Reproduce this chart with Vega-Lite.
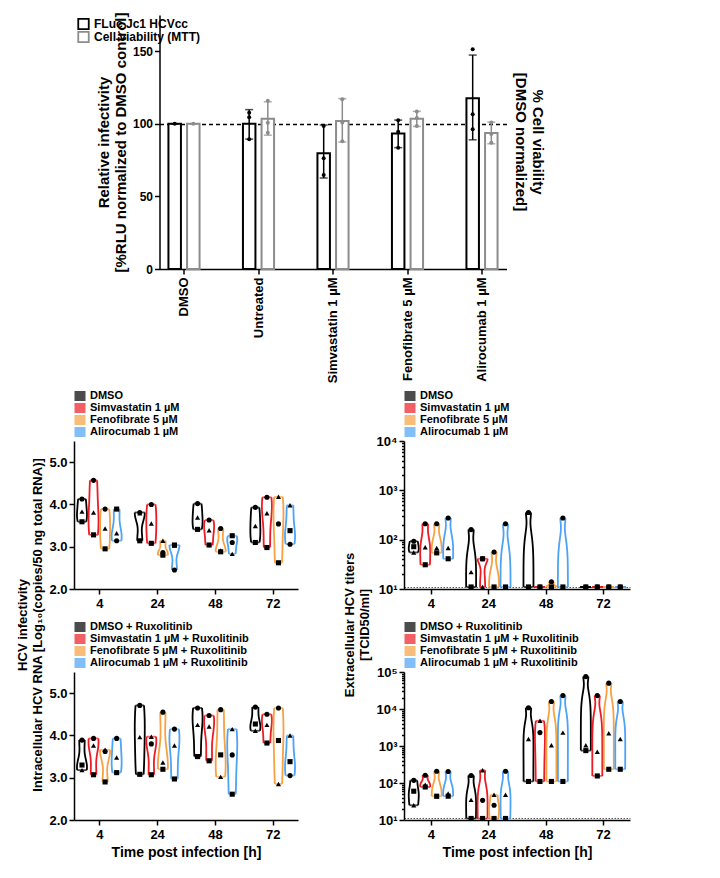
{
"$schema": "https://vega.github.io/schema/vega-lite/v6.json",
"background": "white",
"padding": {"left": 16, "top": 12, "right": 5, "bottom": 5},
"config": {
  "font": "Liberation Sans",
  "view": {"stroke": null},
  "axis": {"domainColor": "black", "domainWidth": 1.5, "tickColor": "black", "tickWidth": 1.5, "tickSize": 5, "labelFont": "Liberation Sans", "labelFontWeight": "bold", "labelColor": "black", "titleFont": "Liberation Sans", "titleFontWeight": "bold", "titleColor": "black", "grid": false, "labelPadding": 2},
  "legend": {"labelFont": "Liberation Sans", "labelFontWeight": "bold", "labelFontSize": 11, "labelColor": "black", "symbolType": "square", "symbolSize": 85, "symbolStrokeWidth": 1.8, "rowPadding": 1, "padding": 0, "labelOffset": 4, "clipHeight": 10},
  "title": {"font": "Liberation Sans", "fontWeight": "bold", "color": "black"}
},
"datasets": {
  "aBars": [
    {"slot": "DMSO|F", "series": "FLuc Jc1 HCVcc", "mean": 100, "lo": 100, "hi": 100},
    {"slot": "DMSO|M", "series": "Cell viability (MTT)", "mean": 100, "lo": 100, "hi": 100},
    {"slot": "Untreated|F", "series": "FLuc Jc1 HCVcc", "mean": 100, "lo": 89.5, "hi": 109.8},
    {"slot": "Untreated|M", "series": "Cell viability (MTT)", "mean": 103.5, "lo": 92.2, "hi": 115.2},
    {"slot": "Simvastatin 1 µM|F", "series": "FLuc Jc1 HCVcc", "mean": 79.8, "lo": 62.7, "hi": 99.2},
    {"slot": "Simvastatin 1 µM|M", "series": "Cell viability (MTT)", "mean": 102, "lo": 87.5, "hi": 117.4},
    {"slot": "Fenofibrate 5 µM|F", "series": "FLuc Jc1 HCVcc", "mean": 93.3, "lo": 83.6, "hi": 102.6},
    {"slot": "Fenofibrate 5 µM|M", "series": "Cell viability (MTT)", "mean": 103.6, "lo": 98.2, "hi": 108.6},
    {"slot": "Alirocumab 1 µM|F", "series": "FLuc Jc1 HCVcc", "mean": 117.6, "lo": 89, "hi": 147.4},
    {"slot": "Alirocumab 1 µM|M", "series": "Cell viability (MTT)", "mean": 93.7, "lo": 86.3, "hi": 101.2}
  ],
  "aPts": [
    {"slot": "DMSO|F", "series": "FLuc Jc1 HCVcc", "value": 100},
    {"slot": "DMSO|M", "series": "Cell viability (MTT)", "value": 100},
    {"slot": "Untreated|F", "series": "FLuc Jc1 HCVcc", "value": 107.7},
    {"slot": "Untreated|F", "series": "FLuc Jc1 HCVcc", "value": 104.5},
    {"slot": "Untreated|F", "series": "FLuc Jc1 HCVcc", "value": 89.4},
    {"slot": "Untreated|M", "series": "Cell viability (MTT)", "value": 116},
    {"slot": "Untreated|M", "series": "Cell viability (MTT)", "value": 100.8},
    {"slot": "Untreated|M", "series": "Cell viability (MTT)", "value": 93.9},
    {"slot": "Simvastatin 1 µM|F", "series": "FLuc Jc1 HCVcc", "value": 98.6},
    {"slot": "Simvastatin 1 µM|F", "series": "FLuc Jc1 HCVcc", "value": 76.3},
    {"slot": "Simvastatin 1 µM|F", "series": "FLuc Jc1 HCVcc", "value": 64.8},
    {"slot": "Simvastatin 1 µM|M", "series": "Cell viability (MTT)", "value": 117},
    {"slot": "Simvastatin 1 µM|M", "series": "Cell viability (MTT)", "value": 101},
    {"slot": "Simvastatin 1 µM|M", "series": "Cell viability (MTT)", "value": 88},
    {"slot": "Fenofibrate 5 µM|F", "series": "FLuc Jc1 HCVcc", "value": 102.5},
    {"slot": "Fenofibrate 5 µM|F", "series": "FLuc Jc1 HCVcc", "value": 94.6},
    {"slot": "Fenofibrate 5 µM|F", "series": "FLuc Jc1 HCVcc", "value": 83.6},
    {"slot": "Fenofibrate 5 µM|M", "series": "Cell viability (MTT)", "value": 108.5},
    {"slot": "Fenofibrate 5 µM|M", "series": "Cell viability (MTT)", "value": 104},
    {"slot": "Fenofibrate 5 µM|M", "series": "Cell viability (MTT)", "value": 98.5},
    {"slot": "Alirocumab 1 µM|F", "series": "FLuc Jc1 HCVcc", "value": 151.4},
    {"slot": "Alirocumab 1 µM|F", "series": "FLuc Jc1 HCVcc", "value": 106.6},
    {"slot": "Alirocumab 1 µM|F", "series": "FLuc Jc1 HCVcc", "value": 96.3},
    {"slot": "Alirocumab 1 µM|M", "series": "Cell viability (MTT)", "value": 101},
    {"slot": "Alirocumab 1 µM|M", "series": "Cell viability (MTT)", "value": 87},
    {"slot": "Alirocumab 1 µM|M", "series": "Cell viability (MTT)", "value": 93}
  ],
  "bTop": [
    {"time": 4, "trt": "DMSO", "cond": "4|D", "rep": "1", "value": 4.13},
    {"time": 4, "trt": "DMSO", "cond": "4|D", "rep": "2", "value": 3.83},
    {"time": 4, "trt": "DMSO", "cond": "4|D", "rep": "3", "value": 3.59},
    {"time": 4, "trt": "Simvastatin 1 µM", "cond": "4|S", "rep": "1", "value": 4.57},
    {"time": 4, "trt": "Simvastatin 1 µM", "cond": "4|S", "rep": "2", "value": 3.81},
    {"time": 4, "trt": "Simvastatin 1 µM", "cond": "4|S", "rep": "3", "value": 3.28},
    {"time": 4, "trt": "Fenofibrate 5 µM", "cond": "4|F", "rep": "1", "value": 3.89},
    {"time": 4, "trt": "Fenofibrate 5 µM", "cond": "4|F", "rep": "2", "value": 3.43},
    {"time": 4, "trt": "Fenofibrate 5 µM", "cond": "4|F", "rep": "3", "value": 2.95},
    {"time": 4, "trt": "Alirocumab 1 µM", "cond": "4|A", "rep": "1", "value": 3.14},
    {"time": 4, "trt": "Alirocumab 1 µM", "cond": "4|A", "rep": "2", "value": 3.32},
    {"time": 4, "trt": "Alirocumab 1 µM", "cond": "4|A", "rep": "3", "value": 3.89},
    {"time": 24, "trt": "DMSO", "cond": "24|D", "rep": "1", "value": 3.81},
    {"time": 24, "trt": "DMSO", "cond": "24|D", "rep": "2", "value": 3.79},
    {"time": 24, "trt": "DMSO", "cond": "24|D", "rep": "3", "value": 3.14},
    {"time": 24, "trt": "Simvastatin 1 µM", "cond": "24|S", "rep": "1", "value": 4.0},
    {"time": 24, "trt": "Simvastatin 1 µM", "cond": "24|S", "rep": "2", "value": 3.55},
    {"time": 24, "trt": "Simvastatin 1 µM", "cond": "24|S", "rep": "3", "value": 3.08},
    {"time": 24, "trt": "Fenofibrate 5 µM", "cond": "24|F", "rep": "1", "value": 2.86},
    {"time": 24, "trt": "Fenofibrate 5 µM", "cond": "24|F", "rep": "2", "value": 3.14},
    {"time": 24, "trt": "Fenofibrate 5 µM", "cond": "24|F", "rep": "3", "value": 2.8},
    {"time": 24, "trt": "Alirocumab 1 µM", "cond": "24|A", "rep": "1", "value": 2.45},
    {"time": 24, "trt": "Alirocumab 1 µM", "cond": "24|A", "rep": "2", "value": 3.03},
    {"time": 24, "trt": "Alirocumab 1 µM", "cond": "24|A", "rep": "3", "value": 3.04},
    {"time": 48, "trt": "DMSO", "cond": "48|D", "rep": "1", "value": 4.02},
    {"time": 48, "trt": "DMSO", "cond": "48|D", "rep": "2", "value": 3.69},
    {"time": 48, "trt": "DMSO", "cond": "48|D", "rep": "3", "value": 3.41},
    {"time": 48, "trt": "Simvastatin 1 µM", "cond": "48|S", "rep": "1", "value": 3.63},
    {"time": 48, "trt": "Simvastatin 1 µM", "cond": "48|S", "rep": "2", "value": 3.39},
    {"time": 48, "trt": "Simvastatin 1 µM", "cond": "48|S", "rep": "3", "value": 3.04},
    {"time": 48, "trt": "Fenofibrate 5 µM", "cond": "48|F", "rep": "1", "value": 3.43},
    {"time": 48, "trt": "Fenofibrate 5 µM", "cond": "48|F", "rep": "2", "value": 2.91},
    {"time": 48, "trt": "Fenofibrate 5 µM", "cond": "48|F", "rep": "3", "value": 2.88},
    {"time": 48, "trt": "Alirocumab 1 µM", "cond": "48|A", "rep": "1", "value": 3.1},
    {"time": 48, "trt": "Alirocumab 1 µM", "cond": "48|A", "rep": "2", "value": 2.83},
    {"time": 48, "trt": "Alirocumab 1 µM", "cond": "48|A", "rep": "3", "value": 3.26},
    {"time": 72, "trt": "DMSO", "cond": "72|D", "rep": "1", "value": 3.93},
    {"time": 72, "trt": "DMSO", "cond": "72|D", "rep": "2", "value": 3.49},
    {"time": 72, "trt": "DMSO", "cond": "72|D", "rep": "3", "value": 3.1},
    {"time": 72, "trt": "Simvastatin 1 µM", "cond": "72|S", "rep": "1", "value": 4.17},
    {"time": 72, "trt": "Simvastatin 1 µM", "cond": "72|S", "rep": "2", "value": 3.79},
    {"time": 72, "trt": "Simvastatin 1 µM", "cond": "72|S", "rep": "3", "value": 2.98},
    {"time": 72, "trt": "Fenofibrate 5 µM", "cond": "72|F", "rep": "1", "value": 3.54},
    {"time": 72, "trt": "Fenofibrate 5 µM", "cond": "72|F", "rep": "2", "value": 4.18},
    {"time": 72, "trt": "Fenofibrate 5 µM", "cond": "72|F", "rep": "3", "value": 2.62},
    {"time": 72, "trt": "Alirocumab 1 µM", "cond": "72|A", "rep": "1", "value": 3.06},
    {"time": 72, "trt": "Alirocumab 1 µM", "cond": "72|A", "rep": "2", "value": 3.98},
    {"time": 72, "trt": "Alirocumab 1 µM", "cond": "72|A", "rep": "3", "value": 3.38}
  ],
  "bBot": [
    {"time": 4, "trt": "DMSO + Ruxolitinib", "cond": "4|D", "rep": "1", "value": 3.89},
    {"time": 4, "trt": "DMSO + Ruxolitinib", "cond": "4|D", "rep": "2", "value": 3.18},
    {"time": 4, "trt": "DMSO + Ruxolitinib", "cond": "4|D", "rep": "3", "value": 3.3},
    {"time": 4, "trt": "Simvastatin 1 µM + Ruxolitinib", "cond": "4|S", "rep": "1", "value": 3.93},
    {"time": 4, "trt": "Simvastatin 1 µM + Ruxolitinib", "cond": "4|S", "rep": "2", "value": 3.76},
    {"time": 4, "trt": "Simvastatin 1 µM + Ruxolitinib", "cond": "4|S", "rep": "3", "value": 3.07},
    {"time": 4, "trt": "Fenofibrate 5 µM + Ruxolitinib", "cond": "4|F", "rep": "1", "value": 3.62},
    {"time": 4, "trt": "Fenofibrate 5 µM + Ruxolitinib", "cond": "4|F", "rep": "2", "value": 3.66},
    {"time": 4, "trt": "Fenofibrate 5 µM + Ruxolitinib", "cond": "4|F", "rep": "3", "value": 2.9},
    {"time": 4, "trt": "Alirocumab 1 µM + Ruxolitinib", "cond": "4|A", "rep": "1", "value": 3.93},
    {"time": 4, "trt": "Alirocumab 1 µM + Ruxolitinib", "cond": "4|A", "rep": "2", "value": 3.48},
    {"time": 4, "trt": "Alirocumab 1 µM + Ruxolitinib", "cond": "4|A", "rep": "3", "value": 3.12},
    {"time": 24, "trt": "DMSO + Ruxolitinib", "cond": "24|D", "rep": "1", "value": 4.71},
    {"time": 24, "trt": "DMSO + Ruxolitinib", "cond": "24|D", "rep": "2", "value": 3.96},
    {"time": 24, "trt": "DMSO + Ruxolitinib", "cond": "24|D", "rep": "3", "value": 3.08},
    {"time": 24, "trt": "Simvastatin 1 µM + Ruxolitinib", "cond": "24|S", "rep": "1", "value": 3.8},
    {"time": 24, "trt": "Simvastatin 1 µM + Ruxolitinib", "cond": "24|S", "rep": "2", "value": 3.97},
    {"time": 24, "trt": "Simvastatin 1 µM + Ruxolitinib", "cond": "24|S", "rep": "3", "value": 3.07},
    {"time": 24, "trt": "Fenofibrate 5 µM + Ruxolitinib", "cond": "24|F", "rep": "1", "value": 4.55},
    {"time": 24, "trt": "Fenofibrate 5 µM + Ruxolitinib", "cond": "24|F", "rep": "2", "value": 3.36},
    {"time": 24, "trt": "Fenofibrate 5 µM + Ruxolitinib", "cond": "24|F", "rep": "3", "value": 3.2},
    {"time": 24, "trt": "Alirocumab 1 µM + Ruxolitinib", "cond": "24|A", "rep": "1", "value": 4.15},
    {"time": 24, "trt": "Alirocumab 1 µM + Ruxolitinib", "cond": "24|A", "rep": "2", "value": 3.76},
    {"time": 24, "trt": "Alirocumab 1 µM + Ruxolitinib", "cond": "24|A", "rep": "3", "value": 2.97},
    {"time": 48, "trt": "DMSO + Ruxolitinib", "cond": "48|D", "rep": "1", "value": 4.65},
    {"time": 48, "trt": "DMSO + Ruxolitinib", "cond": "48|D", "rep": "2", "value": 4.25},
    {"time": 48, "trt": "DMSO + Ruxolitinib", "cond": "48|D", "rep": "3", "value": 3.5},
    {"time": 48, "trt": "Simvastatin 1 µM + Ruxolitinib", "cond": "48|S", "rep": "1", "value": 4.47},
    {"time": 48, "trt": "Simvastatin 1 µM + Ruxolitinib", "cond": "48|S", "rep": "2", "value": 4.21},
    {"time": 48, "trt": "Simvastatin 1 µM + Ruxolitinib", "cond": "48|S", "rep": "3", "value": 3.4},
    {"time": 48, "trt": "Fenofibrate 5 µM + Ruxolitinib", "cond": "48|F", "rep": "1", "value": 4.61},
    {"time": 48, "trt": "Fenofibrate 5 µM + Ruxolitinib", "cond": "48|F", "rep": "2", "value": 3.02},
    {"time": 48, "trt": "Fenofibrate 5 µM + Ruxolitinib", "cond": "48|F", "rep": "3", "value": 3.54},
    {"time": 48, "trt": "Alirocumab 1 µM + Ruxolitinib", "cond": "48|A", "rep": "1", "value": 3.54},
    {"time": 48, "trt": "Alirocumab 1 µM + Ruxolitinib", "cond": "48|A", "rep": "2", "value": 4.15},
    {"time": 48, "trt": "Alirocumab 1 µM + Ruxolitinib", "cond": "48|A", "rep": "3", "value": 2.61},
    {"time": 72, "trt": "DMSO + Ruxolitinib", "cond": "72|D", "rep": "1", "value": 4.67},
    {"time": 72, "trt": "DMSO + Ruxolitinib", "cond": "72|D", "rep": "2", "value": 4.11},
    {"time": 72, "trt": "DMSO + Ruxolitinib", "cond": "72|D", "rep": "3", "value": 4.27},
    {"time": 72, "trt": "Simvastatin 1 µM + Ruxolitinib", "cond": "72|S", "rep": "1", "value": 4.5},
    {"time": 72, "trt": "Simvastatin 1 µM + Ruxolitinib", "cond": "72|S", "rep": "2", "value": 4.25},
    {"time": 72, "trt": "Simvastatin 1 µM + Ruxolitinib", "cond": "72|S", "rep": "3", "value": 3.82},
    {"time": 72, "trt": "Fenofibrate 5 µM + Ruxolitinib", "cond": "72|F", "rep": "1", "value": 4.65},
    {"time": 72, "trt": "Fenofibrate 5 µM + Ruxolitinib", "cond": "72|F", "rep": "2", "value": 2.85},
    {"time": 72, "trt": "Fenofibrate 5 µM + Ruxolitinib", "cond": "72|F", "rep": "3", "value": 3.88},
    {"time": 72, "trt": "Alirocumab 1 µM + Ruxolitinib", "cond": "72|A", "rep": "1", "value": 3.05},
    {"time": 72, "trt": "Alirocumab 1 µM + Ruxolitinib", "cond": "72|A", "rep": "2", "value": 4.0},
    {"time": 72, "trt": "Alirocumab 1 µM + Ruxolitinib", "cond": "72|A", "rep": "3", "value": 3.38}
  ],
  "cTop": [
    {"time": 4, "trt": "DMSO", "cond": "4|D", "rep": "1", "value": 93},
    {"time": 4, "trt": "DMSO", "cond": "4|D", "rep": "2", "value": 55},
    {"time": 4, "trt": "DMSO", "cond": "4|D", "rep": "3", "value": 72},
    {"time": 4, "trt": "Simvastatin 1 µM", "cond": "4|S", "rep": "1", "value": 210},
    {"time": 4, "trt": "Simvastatin 1 µM", "cond": "4|S", "rep": "2", "value": 70},
    {"time": 4, "trt": "Simvastatin 1 µM", "cond": "4|S", "rep": "3", "value": 31},
    {"time": 4, "trt": "Fenofibrate 5 µM", "cond": "4|F", "rep": "1", "value": 210},
    {"time": 4, "trt": "Fenofibrate 5 µM", "cond": "4|F", "rep": "2", "value": 68},
    {"time": 4, "trt": "Fenofibrate 5 µM", "cond": "4|F", "rep": "3", "value": 54},
    {"time": 4, "trt": "Alirocumab 1 µM", "cond": "4|A", "rep": "1", "value": 275},
    {"time": 4, "trt": "Alirocumab 1 µM", "cond": "4|A", "rep": "2", "value": 68},
    {"time": 4, "trt": "Alirocumab 1 µM", "cond": "4|A", "rep": "3", "value": 41},
    {"time": 24, "trt": "DMSO", "cond": "24|D", "rep": "1", "value": 160},
    {"time": 24, "trt": "DMSO", "cond": "24|D", "rep": "2", "value": 22},
    {"time": 24, "trt": "DMSO", "cond": "24|D", "rep": "3", "value": 11},
    {"time": 24, "trt": "Simvastatin 1 µM", "cond": "24|S", "rep": "1", "value": 41},
    {"time": 24, "trt": "Simvastatin 1 µM", "cond": "24|S", "rep": "2", "value": 11},
    {"time": 24, "trt": "Simvastatin 1 µM", "cond": "24|S", "rep": "3", "value": 41},
    {"time": 24, "trt": "Fenofibrate 5 µM", "cond": "24|F", "rep": "1", "value": 56},
    {"time": 24, "trt": "Fenofibrate 5 µM", "cond": "24|F", "rep": "2", "value": 11},
    {"time": 24, "trt": "Fenofibrate 5 µM", "cond": "24|F", "rep": "3", "value": 11},
    {"time": 24, "trt": "Alirocumab 1 µM", "cond": "24|A", "rep": "1", "value": 210},
    {"time": 24, "trt": "Alirocumab 1 µM", "cond": "24|A", "rep": "2", "value": 11},
    {"time": 24, "trt": "Alirocumab 1 µM", "cond": "24|A", "rep": "3", "value": 11},
    {"time": 48, "trt": "DMSO", "cond": "48|D", "rep": "1", "value": 355},
    {"time": 48, "trt": "DMSO", "cond": "48|D", "rep": "2", "value": 11},
    {"time": 48, "trt": "DMSO", "cond": "48|D", "rep": "3", "value": 11},
    {"time": 48, "trt": "Simvastatin 1 µM", "cond": "48|S", "rep": "1", "value": 11},
    {"time": 48, "trt": "Simvastatin 1 µM", "cond": "48|S", "rep": "2", "value": 11},
    {"time": 48, "trt": "Simvastatin 1 µM", "cond": "48|S", "rep": "3", "value": 11},
    {"time": 48, "trt": "Fenofibrate 5 µM", "cond": "48|F", "rep": "1", "value": 14},
    {"time": 48, "trt": "Fenofibrate 5 µM", "cond": "48|F", "rep": "2", "value": 11},
    {"time": 48, "trt": "Fenofibrate 5 µM", "cond": "48|F", "rep": "3", "value": 11},
    {"time": 48, "trt": "Alirocumab 1 µM", "cond": "48|A", "rep": "1", "value": 275},
    {"time": 48, "trt": "Alirocumab 1 µM", "cond": "48|A", "rep": "2", "value": 11},
    {"time": 48, "trt": "Alirocumab 1 µM", "cond": "48|A", "rep": "3", "value": 11},
    {"time": 72, "trt": "DMSO", "cond": "72|D", "rep": "1", "value": 11},
    {"time": 72, "trt": "DMSO", "cond": "72|D", "rep": "2", "value": 11},
    {"time": 72, "trt": "DMSO", "cond": "72|D", "rep": "3", "value": 11},
    {"time": 72, "trt": "Simvastatin 1 µM", "cond": "72|S", "rep": "1", "value": 11},
    {"time": 72, "trt": "Simvastatin 1 µM", "cond": "72|S", "rep": "2", "value": 11},
    {"time": 72, "trt": "Simvastatin 1 µM", "cond": "72|S", "rep": "3", "value": 11},
    {"time": 72, "trt": "Fenofibrate 5 µM", "cond": "72|F", "rep": "1", "value": 11},
    {"time": 72, "trt": "Fenofibrate 5 µM", "cond": "72|F", "rep": "2", "value": 11},
    {"time": 72, "trt": "Fenofibrate 5 µM", "cond": "72|F", "rep": "3", "value": 11},
    {"time": 72, "trt": "Alirocumab 1 µM", "cond": "72|A", "rep": "1", "value": 11},
    {"time": 72, "trt": "Alirocumab 1 µM", "cond": "72|A", "rep": "2", "value": 11},
    {"time": 72, "trt": "Alirocumab 1 µM", "cond": "72|A", "rep": "3", "value": 11}
  ],
  "cBot": [
    {"time": 4, "trt": "DMSO + Ruxolitinib", "cond": "4|D", "rep": "1", "value": 118},
    {"time": 4, "trt": "DMSO + Ruxolitinib", "cond": "4|D", "rep": "2", "value": 25},
    {"time": 4, "trt": "DMSO + Ruxolitinib", "cond": "4|D", "rep": "3", "value": 60},
    {"time": 4, "trt": "Simvastatin 1 µM + Ruxolitinib", "cond": "4|S", "rep": "1", "value": 162},
    {"time": 4, "trt": "Simvastatin 1 µM + Ruxolitinib", "cond": "4|S", "rep": "2", "value": 90},
    {"time": 4, "trt": "Simvastatin 1 µM + Ruxolitinib", "cond": "4|S", "rep": "3", "value": 78},
    {"time": 4, "trt": "Fenofibrate 5 µM + Ruxolitinib", "cond": "4|F", "rep": "1", "value": 208},
    {"time": 4, "trt": "Fenofibrate 5 µM + Ruxolitinib", "cond": "4|F", "rep": "2", "value": 44},
    {"time": 4, "trt": "Fenofibrate 5 µM + Ruxolitinib", "cond": "4|F", "rep": "3", "value": 44},
    {"time": 4, "trt": "Alirocumab 1 µM + Ruxolitinib", "cond": "4|A", "rep": "1", "value": 205},
    {"time": 4, "trt": "Alirocumab 1 µM + Ruxolitinib", "cond": "4|A", "rep": "2", "value": 52},
    {"time": 4, "trt": "Alirocumab 1 µM + Ruxolitinib", "cond": "4|A", "rep": "3", "value": 44},
    {"time": 24, "trt": "DMSO + Ruxolitinib", "cond": "24|D", "rep": "1", "value": 160},
    {"time": 24, "trt": "DMSO + Ruxolitinib", "cond": "24|D", "rep": "2", "value": 35},
    {"time": 24, "trt": "DMSO + Ruxolitinib", "cond": "24|D", "rep": "3", "value": 11},
    {"time": 24, "trt": "Simvastatin 1 µM + Ruxolitinib", "cond": "24|S", "rep": "1", "value": 34},
    {"time": 24, "trt": "Simvastatin 1 µM + Ruxolitinib", "cond": "24|S", "rep": "2", "value": 220},
    {"time": 24, "trt": "Simvastatin 1 µM + Ruxolitinib", "cond": "24|S", "rep": "3", "value": 11},
    {"time": 24, "trt": "Fenofibrate 5 µM + Ruxolitinib", "cond": "24|F", "rep": "1", "value": 25},
    {"time": 24, "trt": "Fenofibrate 5 µM + Ruxolitinib", "cond": "24|F", "rep": "2", "value": 48},
    {"time": 24, "trt": "Fenofibrate 5 µM + Ruxolitinib", "cond": "24|F", "rep": "3", "value": 11},
    {"time": 24, "trt": "Alirocumab 1 µM + Ruxolitinib", "cond": "24|A", "rep": "1", "value": 208},
    {"time": 24, "trt": "Alirocumab 1 µM + Ruxolitinib", "cond": "24|A", "rep": "2", "value": 48},
    {"time": 24, "trt": "Alirocumab 1 µM + Ruxolitinib", "cond": "24|A", "rep": "3", "value": 11},
    {"time": 48, "trt": "DMSO + Ruxolitinib", "cond": "48|D", "rep": "1", "value": 10800},
    {"time": 48, "trt": "DMSO + Ruxolitinib", "cond": "48|D", "rep": "2", "value": 1550},
    {"time": 48, "trt": "DMSO + Ruxolitinib", "cond": "48|D", "rep": "3", "value": 110},
    {"time": 48, "trt": "Simvastatin 1 µM + Ruxolitinib", "cond": "48|S", "rep": "1", "value": 2300},
    {"time": 48, "trt": "Simvastatin 1 µM + Ruxolitinib", "cond": "48|S", "rep": "2", "value": 4800},
    {"time": 48, "trt": "Simvastatin 1 µM + Ruxolitinib", "cond": "48|S", "rep": "3", "value": 110},
    {"time": 48, "trt": "Fenofibrate 5 µM + Ruxolitinib", "cond": "48|F", "rep": "1", "value": 16000},
    {"time": 48, "trt": "Fenofibrate 5 µM + Ruxolitinib", "cond": "48|F", "rep": "2", "value": 1050},
    {"time": 48, "trt": "Fenofibrate 5 µM + Ruxolitinib", "cond": "48|F", "rep": "3", "value": 110},
    {"time": 48, "trt": "Alirocumab 1 µM + Ruxolitinib", "cond": "48|A", "rep": "1", "value": 23000},
    {"time": 48, "trt": "Alirocumab 1 µM + Ruxolitinib", "cond": "48|A", "rep": "2", "value": 2300},
    {"time": 48, "trt": "Alirocumab 1 µM + Ruxolitinib", "cond": "48|A", "rep": "3", "value": 110},
    {"time": 72, "trt": "DMSO + Ruxolitinib", "cond": "72|D", "rep": "1", "value": 75000},
    {"time": 72, "trt": "DMSO + Ruxolitinib", "cond": "72|D", "rep": "2", "value": 1050},
    {"time": 72, "trt": "DMSO + Ruxolitinib", "cond": "72|D", "rep": "3", "value": 750},
    {"time": 72, "trt": "Simvastatin 1 µM + Ruxolitinib", "cond": "72|S", "rep": "1", "value": 23000},
    {"time": 72, "trt": "Simvastatin 1 µM + Ruxolitinib", "cond": "72|S", "rep": "2", "value": 700},
    {"time": 72, "trt": "Simvastatin 1 µM + Ruxolitinib", "cond": "72|S", "rep": "3", "value": 155},
    {"time": 72, "trt": "Fenofibrate 5 µM + Ruxolitinib", "cond": "72|F", "rep": "1", "value": 50000},
    {"time": 72, "trt": "Fenofibrate 5 µM + Ruxolitinib", "cond": "72|F", "rep": "2", "value": 2200},
    {"time": 72, "trt": "Fenofibrate 5 µM + Ruxolitinib", "cond": "72|F", "rep": "3", "value": 235},
    {"time": 72, "trt": "Alirocumab 1 µM + Ruxolitinib", "cond": "72|A", "rep": "1", "value": 16000},
    {"time": 72, "trt": "Alirocumab 1 µM + Ruxolitinib", "cond": "72|A", "rep": "2", "value": 1550},
    {"time": 72, "trt": "Alirocumab 1 µM + Ruxolitinib", "cond": "72|A", "rep": "3", "value": 235}
  ]
},
"spacing": 8,
"center": true,
"resolve": {"scale": {"color": "independent", "shape": "independent"}, "legend": {"color": "independent", "shape": "independent"}},
"vconcat": [
  {
    "width": 347, "height": 254,
    "data": {"name": "aBars"},
    "title": {"text": ["% Cell viability", "[DMSO normalized]"], "orient": "right", "anchor": "middle", "fontSize": 15, "lineHeight": 17, "offset": 6},
    "layer": [
      {"mark": {"type": "bar", "fill": "white", "strokeWidth": 2},
       "encoding": {
         "x": {"field": "slot", "type": "nominal", "scale": {"type": "band", "domain": ["DMSO|F", "DMSO|M", "s1", "s2", "Untreated|F", "Untreated|M", "s3", "s4", "Simvastatin 1 µM|F", "Simvastatin 1 µM|M", "s5", "s6", "Fenofibrate 5 µM|F", "Fenofibrate 5 µM|M", "s7", "s8", "Alirocumab 1 µM|F", "Alirocumab 1 µM|M"], "paddingInner": 0.329, "paddingOuter": 0.48}, "axis": {"title": null, "values": ["DMSO|F", "Untreated|F", "Simvastatin 1 µM|F", "Fenofibrate 5 µM|F", "Alirocumab 1 µM|F"], "labelExpr": "split(datum.value, '|')[0]", "tickOffset": 9.3, "labelAngle": -90, "labelFontSize": 13, "labelPadding": 3}},
         "y": {"field": "mean", "type": "quantitative", "scale": {"domain": [0, 175], "nice": false}, "axis": {"values": [0, 25, 50, 75, 100, 125, 150, 175], "title": ["Relative infectivity", "[%RLU normalized to DMSO control]"], "titleFontSize": 15, "titleLineHeight": 17, "labelFontSize": 12, "titlePadding": 4, "grid": true, "gridColor": "black", "gridDash": [4, 3], "gridWidth": 1.3, "gridOpacity": {"condition": {"test": "datum.value == 100", "value": 1}, "value": 0}}},
         "stroke": {"field": "series", "type": "nominal", "scale": {"domain": ["FLuc Jc1 HCVcc", "Cell viability (MTT)"], "range": ["black", "#8c8c8c"]}, "legend": {"orient": "top-left", "title": null, "offset": 3, "labelFontSize": 12, "symbolSize": 110, "clipHeight": 12, "rowPadding": 1}}
       }},
      {"mark": {"type": "rule", "strokeWidth": 1.5},
       "encoding": {
         "x": {"field": "slot", "type": "nominal", "scale": {"type": "band", "domain": ["DMSO|F", "DMSO|M", "s1", "s2", "Untreated|F", "Untreated|M", "s3", "s4", "Simvastatin 1 µM|F", "Simvastatin 1 µM|M", "s5", "s6", "Fenofibrate 5 µM|F", "Fenofibrate 5 µM|M", "s7", "s8", "Alirocumab 1 µM|F", "Alirocumab 1 µM|M"], "paddingInner": 0.329, "paddingOuter": 0.48}},
         "y": {"field": "lo", "type": "quantitative", "scale": {"domain": [0, 175], "nice": false}},
         "y2": {"field": "hi"},
         "color": {"field": "series", "type": "nominal", "scale": {"domain": ["FLuc Jc1 HCVcc", "Cell viability (MTT)"], "range": ["black", "#8c8c8c"]}, "legend": null}
       }},
      {"mark": {"type": "tick", "thickness": 1.5, "size": 8},
       "encoding": {
         "x": {"field": "slot", "type": "nominal", "scale": {"type": "band", "domain": ["DMSO|F", "DMSO|M", "s1", "s2", "Untreated|F", "Untreated|M", "s3", "s4", "Simvastatin 1 µM|F", "Simvastatin 1 µM|M", "s5", "s6", "Fenofibrate 5 µM|F", "Fenofibrate 5 µM|M", "s7", "s8", "Alirocumab 1 µM|F", "Alirocumab 1 µM|M"], "paddingInner": 0.329, "paddingOuter": 0.48}},
         "y": {"field": "lo", "type": "quantitative", "scale": {"domain": [0, 175], "nice": false}},
         "color": {"field": "series", "type": "nominal", "scale": {"domain": ["FLuc Jc1 HCVcc", "Cell viability (MTT)"], "range": ["black", "#8c8c8c"]}, "legend": null}
       }},
      {"mark": {"type": "tick", "thickness": 1.5, "size": 8},
       "encoding": {
         "x": {"field": "slot", "type": "nominal", "scale": {"type": "band", "domain": ["DMSO|F", "DMSO|M", "s1", "s2", "Untreated|F", "Untreated|M", "s3", "s4", "Simvastatin 1 µM|F", "Simvastatin 1 µM|M", "s5", "s6", "Fenofibrate 5 µM|F", "Fenofibrate 5 µM|M", "s7", "s8", "Alirocumab 1 µM|F", "Alirocumab 1 µM|M"], "paddingInner": 0.329, "paddingOuter": 0.48}},
         "y": {"field": "hi", "type": "quantitative", "scale": {"domain": [0, 175], "nice": false}},
         "color": {"field": "series", "type": "nominal", "scale": {"domain": ["FLuc Jc1 HCVcc", "Cell viability (MTT)"], "range": ["black", "#8c8c8c"]}, "legend": null}
       }},
      {"data": {"name": "aPts"}, "mark": {"type": "circle", "size": 16, "opacity": 1},
       "encoding": {
         "x": {"field": "slot", "type": "nominal", "scale": {"type": "band", "domain": ["DMSO|F", "DMSO|M", "s1", "s2", "Untreated|F", "Untreated|M", "s3", "s4", "Simvastatin 1 µM|F", "Simvastatin 1 µM|M", "s5", "s6", "Fenofibrate 5 µM|F", "Fenofibrate 5 µM|M", "s7", "s8", "Alirocumab 1 µM|F", "Alirocumab 1 µM|M"], "paddingInner": 0.329, "paddingOuter": 0.48}},
         "y": {"field": "value", "type": "quantitative", "scale": {"domain": [0, 175], "nice": false}},
         "color": {"field": "series", "type": "nominal", "scale": {"domain": ["FLuc Jc1 HCVcc", "Cell viability (MTT)"], "range": ["black", "#8c8c8c"]}, "legend": null}
       }}
    ]
  },
  {
    "hconcat": [
      {
        "title": {"text": ["HCV infectivity", "Intracellular HCV RNA [Log₁₀(copies/50 ng total RNA)]"], "orient": "left", "anchor": "middle", "fontSize": 13, "lineHeight": 15, "offset": 4},
        "spacing": 12,
        "resolve": {"scale": {"color": "independent", "shape": "independent"}, "legend": {"color": "independent", "shape": "independent"}},
        "vconcat": [
          {
            "width": 224, "height": 148,
            "data": {"name": "bTop"},
            "layer": [
              {"transform": [{"density": "value", "groupby": ["cond", "trt"], "resolve": "independent"}, {"joinaggregate": [{"op": "max", "field": "density", "as": "dmax"}], "groupby": ["cond"]}],
               "mark": {"type": "line", "strokeWidth": 1.8, "xOffset": {"expr": "5*datum.density/datum.dmax"}},
               "encoding": {
                 "x": {"field": "cond", "type": "nominal", "scale": {"type": "point", "domain": ["4|D", "4|S", "4|F", "4|A", "g1", "24|D", "24|S", "24|F", "24|A", "g2", "48|D", "48|S", "48|F", "48|A", "g3", "72|D", "72|S", "72|F", "72|A"], "padding": 0.69}, "axis": {"title": null, "values": ["4|S", "24|S", "48|S", "72|S"], "labelExpr": "split(datum.value, '|')[0]", "tickOffset": 5.8, "labelAngle": 0, "labelFontSize": 13, "labelPadding": 3}},
                 "y": {"field": "value", "type": "quantitative", "scale": {"domain": [2, 5.5], "nice": false, "zero": false}, "axis": {"values": [2, 2.5, 3, 3.5, 4, 4.5, 5, 5.5], "format": ".1f", "title": null, "labelFontSize": 13}},
                 "color": {"field": "trt", "type": "nominal", "scale": {"domain": ["DMSO", "Simvastatin 1 µM", "Fenofibrate 5 µM", "Alirocumab 1 µM"], "range": ["#000000", "#ed1c24", "#f7a143", "#4da3f7"]}, "legend": {"orient": "top", "direction": "vertical", "title": null, "offset": 4}},
                 "detail": {"field": "cond"},
                 "order": {"field": "value", "type": "quantitative"}}},
              {"transform": [{"density": "value", "groupby": ["cond", "trt"], "resolve": "independent"}, {"joinaggregate": [{"op": "max", "field": "density", "as": "dmax"}], "groupby": ["cond"]}],
               "mark": {"type": "line", "strokeWidth": 1.8, "xOffset": {"expr": "-5*datum.density/datum.dmax"}},
               "encoding": {
                 "x": {"field": "cond", "type": "nominal", "scale": {"type": "point", "domain": ["4|D", "4|S", "4|F", "4|A", "g1", "24|D", "24|S", "24|F", "24|A", "g2", "48|D", "48|S", "48|F", "48|A", "g3", "72|D", "72|S", "72|F", "72|A"], "padding": 0.69}},
                 "y": {"field": "value", "type": "quantitative", "scale": {"domain": [2, 5.5], "nice": false, "zero": false}},
                 "color": {"field": "trt", "type": "nominal"},
                 "detail": {"field": "cond"},
                 "order": {"field": "value", "type": "quantitative"}}},
              {"transform": [{"density": "value", "groupby": ["cond", "trt"], "resolve": "independent"}, {"joinaggregate": [{"op": "max", "field": "density", "as": "dmax"}, {"op": "min", "field": "value", "as": "vmin"}, {"op": "max", "field": "value", "as": "vmax"}], "groupby": ["cond"]}, {"filter": "datum.value == datum.vmin || datum.value == datum.vmax"}],
               "mark": {"type": "tick", "thickness": 1.8, "size": {"expr": "10*datum.density/datum.dmax"}},
               "encoding": {
                 "x": {"field": "cond", "type": "nominal", "scale": {"type": "point", "domain": ["4|D", "4|S", "4|F", "4|A", "g1", "24|D", "24|S", "24|F", "24|A", "g2", "48|D", "48|S", "48|F", "48|A", "g3", "72|D", "72|S", "72|F", "72|A"], "padding": 0.69}},
                 "y": {"field": "value", "type": "quantitative", "scale": {"domain": [2, 5.5], "nice": false, "zero": false}},
                 "color": {"field": "trt", "type": "nominal"}}},
              {"mark": {"type": "point", "filled": true, "size": 26, "color": "black", "opacity": 1},
               "encoding": {
                 "x": {"field": "cond", "type": "nominal", "scale": {"type": "point", "domain": ["4|D", "4|S", "4|F", "4|A", "g1", "24|D", "24|S", "24|F", "24|A", "g2", "48|D", "48|S", "48|F", "48|A", "g3", "72|D", "72|S", "72|F", "72|A"], "padding": 0.69}},
                 "y": {"field": "value", "type": "quantitative", "scale": {"domain": [2, 5.5], "nice": false, "zero": false}},
                 "shape": {"field": "rep", "type": "nominal", "scale": {"domain": ["1", "2", "3"], "range": ["circle", "triangle-up", "square"]}, "legend": null}}}
            ]
          },
          {
            "width": 224, "height": 148,
            "data": {"name": "bBot"},
            "layer": [
              {"transform": [{"density": "value", "groupby": ["cond", "trt"], "resolve": "independent"}, {"joinaggregate": [{"op": "max", "field": "density", "as": "dmax"}], "groupby": ["cond"]}],
               "mark": {"type": "line", "strokeWidth": 1.8, "xOffset": {"expr": "5*datum.density/datum.dmax"}},
               "encoding": {
                 "x": {"field": "cond", "type": "nominal", "scale": {"type": "point", "domain": ["4|D", "4|S", "4|F", "4|A", "g1", "24|D", "24|S", "24|F", "24|A", "g2", "48|D", "48|S", "48|F", "48|A", "g3", "72|D", "72|S", "72|F", "72|A"], "padding": 0.69}, "axis": {"title": "Time post infection [h]", "titleFontSize": 14, "titlePadding": 4, "values": ["4|S", "24|S", "48|S", "72|S"], "labelExpr": "split(datum.value, '|')[0]", "tickOffset": 5.8, "labelAngle": 0, "labelFontSize": 13, "labelPadding": 3}},
                 "y": {"field": "value", "type": "quantitative", "scale": {"domain": [2, 5.5], "nice": false, "zero": false}, "axis": {"values": [2, 2.5, 3, 3.5, 4, 4.5, 5, 5.5], "format": ".1f", "title": null, "labelFontSize": 13}},
                 "color": {"field": "trt", "type": "nominal", "scale": {"domain": ["DMSO + Ruxolitinib", "Simvastatin 1 µM + Ruxolitinib", "Fenofibrate 5 µM + Ruxolitinib", "Alirocumab 1 µM + Ruxolitinib"], "range": ["#000000", "#ed1c24", "#f7a143", "#4da3f7"]}, "legend": {"orient": "top", "direction": "vertical", "title": null, "offset": 4}},
                 "detail": {"field": "cond"},
                 "order": {"field": "value", "type": "quantitative"}}},
              {"transform": [{"density": "value", "groupby": ["cond", "trt"], "resolve": "independent"}, {"joinaggregate": [{"op": "max", "field": "density", "as": "dmax"}], "groupby": ["cond"]}],
               "mark": {"type": "line", "strokeWidth": 1.8, "xOffset": {"expr": "-5*datum.density/datum.dmax"}},
               "encoding": {
                 "x": {"field": "cond", "type": "nominal", "scale": {"type": "point", "domain": ["4|D", "4|S", "4|F", "4|A", "g1", "24|D", "24|S", "24|F", "24|A", "g2", "48|D", "48|S", "48|F", "48|A", "g3", "72|D", "72|S", "72|F", "72|A"], "padding": 0.69}},
                 "y": {"field": "value", "type": "quantitative", "scale": {"domain": [2, 5.5], "nice": false, "zero": false}},
                 "color": {"field": "trt", "type": "nominal"},
                 "detail": {"field": "cond"},
                 "order": {"field": "value", "type": "quantitative"}}},
              {"transform": [{"density": "value", "groupby": ["cond", "trt"], "resolve": "independent"}, {"joinaggregate": [{"op": "max", "field": "density", "as": "dmax"}, {"op": "min", "field": "value", "as": "vmin"}, {"op": "max", "field": "value", "as": "vmax"}], "groupby": ["cond"]}, {"filter": "datum.value == datum.vmin || datum.value == datum.vmax"}],
               "mark": {"type": "tick", "thickness": 1.8, "size": {"expr": "10*datum.density/datum.dmax"}},
               "encoding": {
                 "x": {"field": "cond", "type": "nominal", "scale": {"type": "point", "domain": ["4|D", "4|S", "4|F", "4|A", "g1", "24|D", "24|S", "24|F", "24|A", "g2", "48|D", "48|S", "48|F", "48|A", "g3", "72|D", "72|S", "72|F", "72|A"], "padding": 0.69}},
                 "y": {"field": "value", "type": "quantitative", "scale": {"domain": [2, 5.5], "nice": false, "zero": false}},
                 "color": {"field": "trt", "type": "nominal"}}},
              {"mark": {"type": "point", "filled": true, "size": 26, "color": "black", "opacity": 1},
               "encoding": {
                 "x": {"field": "cond", "type": "nominal", "scale": {"type": "point", "domain": ["4|D", "4|S", "4|F", "4|A", "g1", "24|D", "24|S", "24|F", "24|A", "g2", "48|D", "48|S", "48|F", "48|A", "g3", "72|D", "72|S", "72|F", "72|A"], "padding": 0.69}},
                 "y": {"field": "value", "type": "quantitative", "scale": {"domain": [2, 5.5], "nice": false, "zero": false}},
                 "shape": {"field": "rep", "type": "nominal", "scale": {"domain": ["1", "2", "3"], "range": ["circle", "triangle-up", "square"]}, "legend": null}}}
            ]
          }
        ]
      },
      {
        "title": {"text": ["Extracellular HCV titers", "[TCID50/ml]"], "orient": "left", "anchor": "middle", "fontSize": 13, "lineHeight": 15, "offset": 4},
        "spacing": 12,
        "resolve": {"scale": {"color": "independent", "shape": "independent"}, "legend": {"color": "independent", "shape": "independent"}},
        "vconcat": [
          {
            "width": 226, "height": 148,
            "data": {"name": "cTop"},
            "layer": [
              {"transform": [{"density": "value", "groupby": ["cond", "trt"], "resolve": "independent"}, {"joinaggregate": [{"op": "max", "field": "density", "as": "dmax"}], "groupby": ["cond"]}],
               "mark": {"type": "line", "strokeWidth": 1.8, "xOffset": {"expr": "5*datum.density/datum.dmax"}},
               "encoding": {
                 "x": {"field": "cond", "type": "nominal", "scale": {"type": "point", "domain": ["4|D", "4|S", "4|F", "4|A", "g1", "24|D", "24|S", "24|F", "24|A", "g2", "48|D", "48|S", "48|F", "48|A", "g3", "72|D", "72|S", "72|F", "72|A"], "padding": 0.85}, "axis": {"title": null, "values": ["4|S", "24|S", "48|S", "72|S"], "labelExpr": "split(datum.value, '|')[0]", "tickOffset": 5.75, "labelAngle": 0, "labelFontSize": 13, "labelPadding": 3}},
                 "y": {"field": "value", "type": "quantitative", "scale": {"type": "log", "domain": [10, 10000], "nice": false}, "axis": {"values": [10, 11, 20, 30, 40, 50, 60, 70, 80, 90, 100, 200, 300, 400, 500, 600, 700, 800, 900, 1000, 2000, 3000, 4000, 5000, 6000, 7000, 8000, 9000, 10000], "labelExpr": "datum.value == 10 ? '10¹' : datum.value == 100 ? '10²' : datum.value == 1000 ? '10³' : datum.value == 10000 ? '10⁴' : ''", "tickSize": {"condition": {"test": "datum.value == 10 || datum.value == 100 || datum.value == 1000 || datum.value == 10000", "value": 5}, "value": 2.5}, "tickOpacity": {"condition": {"test": "datum.value == 11", "value": 0}, "value": 1}, "grid": true, "gridColor": "#555555", "gridDash": [1.5, 1.5], "gridWidth": 1.2, "gridOpacity": {"condition": {"test": "datum.value == 11", "value": 1}, "value": 0}, "title": null, "labelFontSize": 13}},
                 "color": {"field": "trt", "type": "nominal", "scale": {"domain": ["DMSO", "Simvastatin 1 µM", "Fenofibrate 5 µM", "Alirocumab 1 µM"], "range": ["#000000", "#ed1c24", "#f7a143", "#4da3f7"]}, "legend": {"orient": "top", "direction": "vertical", "title": null, "offset": 4}},
                 "detail": {"field": "cond"},
                 "order": {"field": "value", "type": "quantitative"}}},
              {"transform": [{"density": "value", "groupby": ["cond", "trt"], "resolve": "independent"}, {"joinaggregate": [{"op": "max", "field": "density", "as": "dmax"}], "groupby": ["cond"]}],
               "mark": {"type": "line", "strokeWidth": 1.8, "xOffset": {"expr": "-5*datum.density/datum.dmax"}},
               "encoding": {
                 "x": {"field": "cond", "type": "nominal", "scale": {"type": "point", "domain": ["4|D", "4|S", "4|F", "4|A", "g1", "24|D", "24|S", "24|F", "24|A", "g2", "48|D", "48|S", "48|F", "48|A", "g3", "72|D", "72|S", "72|F", "72|A"], "padding": 0.85}},
                 "y": {"field": "value", "type": "quantitative", "scale": {"type": "log", "domain": [10, 10000], "nice": false}},
                 "color": {"field": "trt", "type": "nominal"},
                 "detail": {"field": "cond"},
                 "order": {"field": "value", "type": "quantitative"}}},
              {"transform": [{"density": "value", "groupby": ["cond", "trt"], "resolve": "independent"}, {"joinaggregate": [{"op": "max", "field": "density", "as": "dmax"}, {"op": "min", "field": "value", "as": "vmin"}, {"op": "max", "field": "value", "as": "vmax"}], "groupby": ["cond"]}, {"filter": "datum.value == datum.vmin || datum.value == datum.vmax"}],
               "mark": {"type": "tick", "thickness": 1.8, "size": {"expr": "10*datum.density/datum.dmax"}},
               "encoding": {
                 "x": {"field": "cond", "type": "nominal", "scale": {"type": "point", "domain": ["4|D", "4|S", "4|F", "4|A", "g1", "24|D", "24|S", "24|F", "24|A", "g2", "48|D", "48|S", "48|F", "48|A", "g3", "72|D", "72|S", "72|F", "72|A"], "padding": 0.85}},
                 "y": {"field": "value", "type": "quantitative", "scale": {"type": "log", "domain": [10, 10000], "nice": false}},
                 "color": {"field": "trt", "type": "nominal"}}},
              {"mark": {"type": "point", "filled": true, "size": 26, "color": "black", "opacity": 1},
               "encoding": {
                 "x": {"field": "cond", "type": "nominal", "scale": {"type": "point", "domain": ["4|D", "4|S", "4|F", "4|A", "g1", "24|D", "24|S", "24|F", "24|A", "g2", "48|D", "48|S", "48|F", "48|A", "g3", "72|D", "72|S", "72|F", "72|A"], "padding": 0.85}},
                 "y": {"field": "value", "type": "quantitative", "scale": {"type": "log", "domain": [10, 10000], "nice": false}},
                 "shape": {"field": "rep", "type": "nominal", "scale": {"domain": ["1", "2", "3"], "range": ["circle", "triangle-up", "square"]}, "legend": null}}}
            ]
          },
          {
            "width": 226, "height": 148,
            "data": {"name": "cBot"},
            "layer": [
              {"transform": [{"density": "value", "groupby": ["cond", "trt"], "resolve": "independent"}, {"joinaggregate": [{"op": "max", "field": "density", "as": "dmax"}], "groupby": ["cond"]}],
               "mark": {"type": "line", "strokeWidth": 1.8, "xOffset": {"expr": "5*datum.density/datum.dmax"}},
               "encoding": {
                 "x": {"field": "cond", "type": "nominal", "scale": {"type": "point", "domain": ["4|D", "4|S", "4|F", "4|A", "g1", "24|D", "24|S", "24|F", "24|A", "g2", "48|D", "48|S", "48|F", "48|A", "g3", "72|D", "72|S", "72|F", "72|A"], "padding": 0.85}, "axis": {"title": "Time post infection [h]", "titleFontSize": 14, "titlePadding": 4, "values": ["4|S", "24|S", "48|S", "72|S"], "labelExpr": "split(datum.value, '|')[0]", "tickOffset": 5.75, "labelAngle": 0, "labelFontSize": 13, "labelPadding": 3}},
                 "y": {"field": "value", "type": "quantitative", "scale": {"type": "log", "domain": [10, 100000], "nice": false}, "axis": {"values": [10, 11, 20, 30, 40, 50, 60, 70, 80, 90, 100, 200, 300, 400, 500, 600, 700, 800, 900, 1000, 2000, 3000, 4000, 5000, 6000, 7000, 8000, 9000, 10000, 20000, 30000, 40000, 50000, 60000, 70000, 80000, 90000, 100000], "labelExpr": "datum.value == 10 ? '10¹' : datum.value == 100 ? '10²' : datum.value == 1000 ? '10³' : datum.value == 10000 ? '10⁴' : datum.value == 100000 ? '10⁵' : ''", "tickSize": {"condition": {"test": "datum.value == 10 || datum.value == 100 || datum.value == 1000 || datum.value == 10000 || datum.value == 100000", "value": 5}, "value": 2.5}, "tickOpacity": {"condition": {"test": "datum.value == 11", "value": 0}, "value": 1}, "grid": true, "gridColor": "#555555", "gridDash": [1.5, 1.5], "gridWidth": 1.2, "gridOpacity": {"condition": {"test": "datum.value == 11", "value": 1}, "value": 0}, "title": null, "labelFontSize": 13}},
                 "color": {"field": "trt", "type": "nominal", "scale": {"domain": ["DMSO + Ruxolitinib", "Simvastatin 1 µM + Ruxolitinib", "Fenofibrate 5 µM + Ruxolitinib", "Alirocumab 1 µM + Ruxolitinib"], "range": ["#000000", "#ed1c24", "#f7a143", "#4da3f7"]}, "legend": {"orient": "top", "direction": "vertical", "title": null, "offset": 4}},
                 "detail": {"field": "cond"},
                 "order": {"field": "value", "type": "quantitative"}}},
              {"transform": [{"density": "value", "groupby": ["cond", "trt"], "resolve": "independent"}, {"joinaggregate": [{"op": "max", "field": "density", "as": "dmax"}], "groupby": ["cond"]}],
               "mark": {"type": "line", "strokeWidth": 1.8, "xOffset": {"expr": "-5*datum.density/datum.dmax"}},
               "encoding": {
                 "x": {"field": "cond", "type": "nominal", "scale": {"type": "point", "domain": ["4|D", "4|S", "4|F", "4|A", "g1", "24|D", "24|S", "24|F", "24|A", "g2", "48|D", "48|S", "48|F", "48|A", "g3", "72|D", "72|S", "72|F", "72|A"], "padding": 0.85}},
                 "y": {"field": "value", "type": "quantitative", "scale": {"type": "log", "domain": [10, 100000], "nice": false}},
                 "color": {"field": "trt", "type": "nominal"},
                 "detail": {"field": "cond"},
                 "order": {"field": "value", "type": "quantitative"}}},
              {"transform": [{"density": "value", "groupby": ["cond", "trt"], "resolve": "independent"}, {"joinaggregate": [{"op": "max", "field": "density", "as": "dmax"}, {"op": "min", "field": "value", "as": "vmin"}, {"op": "max", "field": "value", "as": "vmax"}], "groupby": ["cond"]}, {"filter": "datum.value == datum.vmin || datum.value == datum.vmax"}],
               "mark": {"type": "tick", "thickness": 1.8, "size": {"expr": "10*datum.density/datum.dmax"}},
               "encoding": {
                 "x": {"field": "cond", "type": "nominal", "scale": {"type": "point", "domain": ["4|D", "4|S", "4|F", "4|A", "g1", "24|D", "24|S", "24|F", "24|A", "g2", "48|D", "48|S", "48|F", "48|A", "g3", "72|D", "72|S", "72|F", "72|A"], "padding": 0.85}},
                 "y": {"field": "value", "type": "quantitative", "scale": {"type": "log", "domain": [10, 100000], "nice": false}},
                 "color": {"field": "trt", "type": "nominal"}}},
              {"mark": {"type": "point", "filled": true, "size": 26, "color": "black", "opacity": 1},
               "encoding": {
                 "x": {"field": "cond", "type": "nominal", "scale": {"type": "point", "domain": ["4|D", "4|S", "4|F", "4|A", "g1", "24|D", "24|S", "24|F", "24|A", "g2", "48|D", "48|S", "48|F", "48|A", "g3", "72|D", "72|S", "72|F", "72|A"], "padding": 0.85}},
                 "y": {"field": "value", "type": "quantitative", "scale": {"type": "log", "domain": [10, 100000], "nice": false}},
                 "shape": {"field": "rep", "type": "nominal", "scale": {"domain": ["1", "2", "3"], "range": ["circle", "triangle-up", "square"]}, "legend": null}}}
            ]
          }
        ]
      }
    ],
    "spacing": 45,
    "resolve": {"scale": {"color": "independent", "shape": "independent"}, "legend": {"color": "independent", "shape": "independent"}}
  }
]
}
